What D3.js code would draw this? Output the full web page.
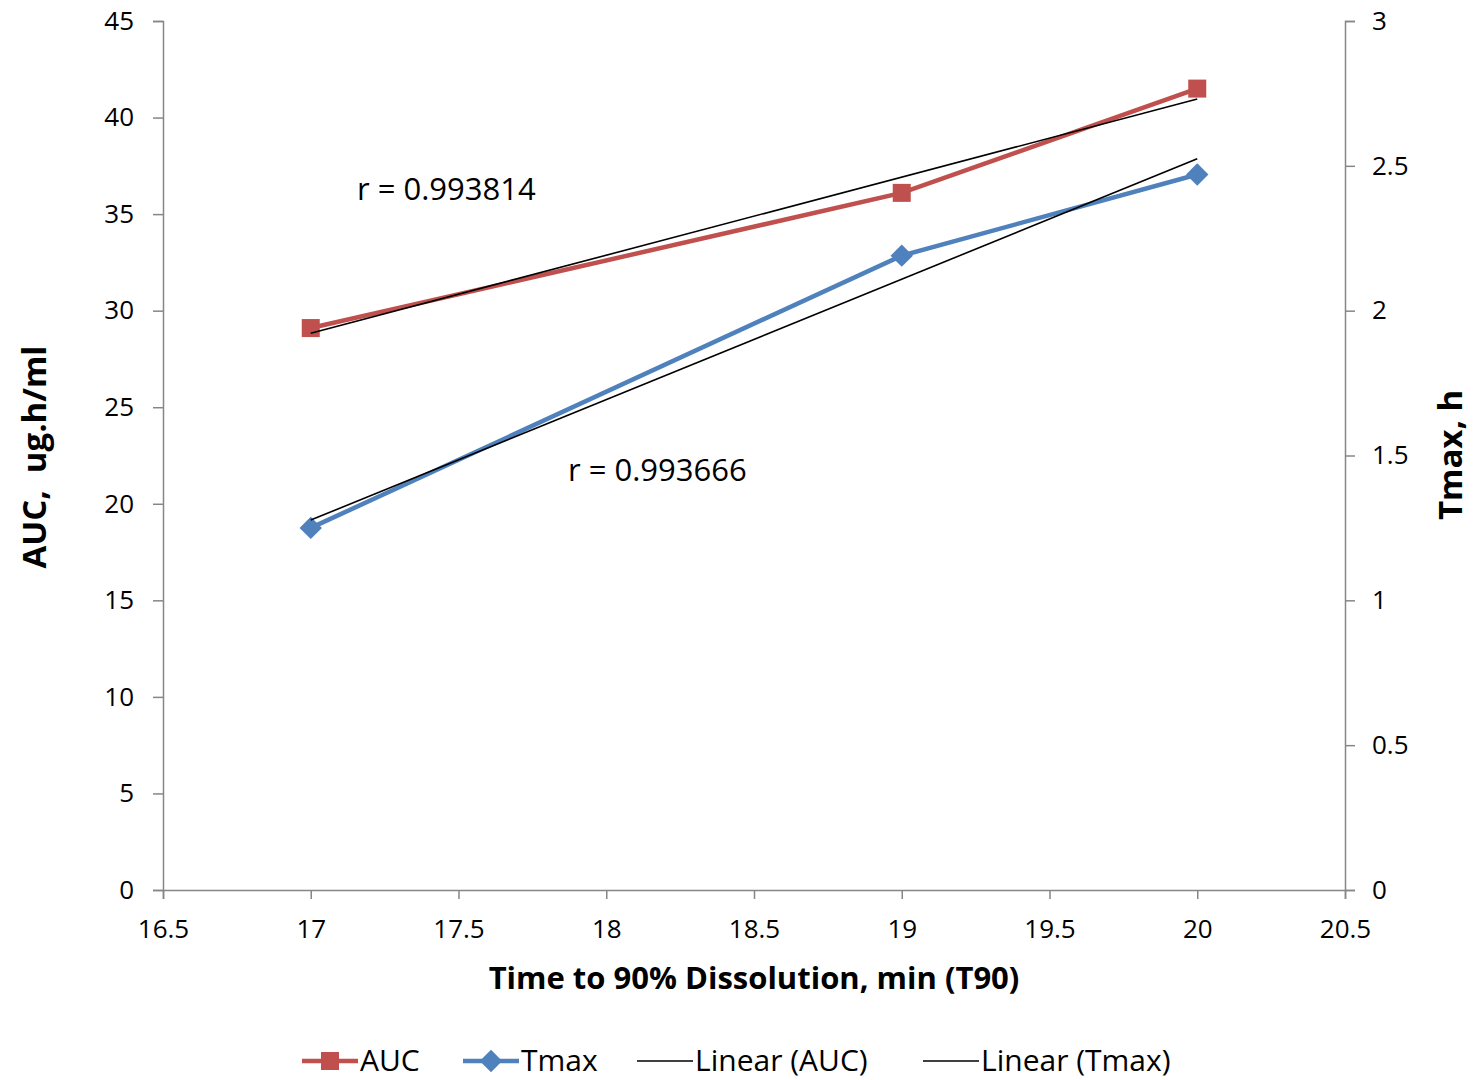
<!DOCTYPE html>
<html>
<head>
<meta charset="utf-8">
<script src="https://cdn.jsdelivr.net/npm/d3@7"></script>
<style>
  body { margin: 0; background: #fff; }
  svg text { font-family: "Open Sans", "Noto Sans", sans-serif; fill: #000; }
  .axis path, .axis line { stroke: #868686; stroke-width: 1.5; }
  .axis text { font-size: 26px; }
</style>
</head>
<body>
<svg width="1477" height="1080"></svg>
<script>
// chart data
var t90 = [17, 19, 20];
var auc = [29.1, 36.1, 41.5];
var tmax = [1.25, 2.19, 2.47];
var xTicks = [16.5, 17, 17.5, 18, 18.5, 19, 19.5, 20, 20.5];
var leftTicks = [0, 5, 10, 15, 20, 25, 30, 35, 40, 45];
var rightTicks = [0, 0.5, 1, 1.5, 2, 2.5, 3];
var rLabels = ["r = 0.993814", "r = 0.993666"];

var svg = d3.select("svg"),
    margin = {top: 21, right: 132, bottom: 190, left: 163},
    width = 1477 - margin.left - margin.right,
    height = 1080 - margin.top - margin.bottom;

var x = d3.scaleLinear().domain([16.5, 20.5]).range([0, width]),
    yL = d3.scaleLinear().domain([0, 45]).range([height, 0]),
    yR = d3.scaleLinear().domain([0, 3]).range([height, 0]);

var g = svg.append("g")
    .attr("transform", "translate(" + margin.left + "," + margin.top + ")");

// least squares line
function fit(xs, ys) {
    var mx = d3.mean(xs), my = d3.mean(ys);
    var sxy = d3.sum(xs, function(d, i) { return (d - mx) * (ys[i] - my); });
    var sxx = d3.sum(xs, function(d) { return (d - mx) * (d - mx); });
    var b = sxy / sxx;
    return function(v) { return my + b * (v - mx); };
}

g.append("g")
    .attr("class", "axis")
    .attr("transform", "translate(0," + height + ")")
    .call(d3.axisBottom(x).tickValues(xTicks).tickSize(9).tickPadding(21).tickFormat(d3.format("")));

g.append("g")
    .attr("class", "axis")
    .call(d3.axisLeft(yL).tickValues(leftTicks).tickSize(10).tickPadding(19));

g.append("g")
    .attr("class", "axis")
    .attr("transform", "translate(" + width + ",0)")
    .call(d3.axisRight(yR).tickValues(rightTicks).tickSize(10).tickPadding(17).tickFormat(d3.format("")));

g.selectAll(".axis text").style("fill", "#000");

var aucColor = "#C0504D", tmaxColor = "#4F81BD";

var lineL = d3.line().x(function(d, i) { return x(t90[i]); }).y(function(d) { return yL(d); });
var lineR = d3.line().x(function(d, i) { return x(t90[i]); }).y(function(d) { return yR(d); });

g.append("path").datum(auc).attr("d", lineL)
    .attr("fill", "none").attr("stroke", aucColor).attr("stroke-width", 4.5);
g.append("path").datum(tmax).attr("d", lineR)
    .attr("fill", "none").attr("stroke", tmaxColor).attr("stroke-width", 4.5);

// markers
g.selectAll(".sq").data(auc).enter().append("rect")
    .attr("x", function(d, i) { return x(t90[i]) - 9; })
    .attr("y", function(d) { return yL(d) - 9; })
    .attr("width", 18).attr("height", 18)
    .attr("fill", aucColor);

var diamond = d3.symbol().type(d3.symbolDiamond2).size(320);
g.selectAll(".dm").data(tmax).enter().append("path")
    .attr("d", diamond)
    .attr("transform", function(d, i) { return "translate(" + x(t90[i]) + "," + yR(d) + ")"; })
    .attr("fill", tmaxColor);

// trendlines
var fA = fit(t90, auc), fT = fit(t90, tmax);
var ends = d3.extent(t90);
g.append("line")
    .attr("x1", x(ends[0])).attr("y1", yL(fA(ends[0])))
    .attr("x2", x(ends[1])).attr("y2", yL(fA(ends[1])))
    .attr("stroke", "#000").attr("stroke-width", 1.6);
g.append("line")
    .attr("x1", x(ends[0])).attr("y1", yR(fT(ends[0])))
    .attr("x2", x(ends[1])).attr("y2", yR(fT(ends[1])))
    .attr("stroke", "#000").attr("stroke-width", 1.6);

// r labels
svg.append("text").attr("x", 357).attr("y", 200).style("font-size", "31px").text(rLabels[0]);
svg.append("text").attr("x", 568).attr("y", 481).style("font-size", "31px").text(rLabels[1]);

// axis titles
svg.append("text")
    .attr("transform", "translate(46,457) rotate(-90)")
    .attr("text-anchor", "middle")
    .style("font-size", "33px").style("font-weight", "bold")
    .text("AUC,\u00a0\u00a0ug.h/ml");

svg.append("text")
    .attr("transform", "translate(1462,455) rotate(-90)")
    .attr("text-anchor", "middle")
    .style("font-size", "33px").style("font-weight", "bold")
    .text("Tmax, h");

svg.append("text")
    .attr("x", 754).attr("y", 989)
    .attr("text-anchor", "middle")
    .style("font-size", "31px").style("font-weight", "bold")
    .text("Time to 90% Dissolution, min (T90)");

// legend
var legend = [
    {name: "AUC", color: aucColor, w: 4.5, mark: "sq", x: 302},
    {name: "Tmax", color: tmaxColor, w: 4.5, mark: "dm", x: 463},
    {name: "Linear (AUC)", color: "#000", w: 1.6, mark: null, x: 637},
    {name: "Linear (Tmax)", color: "#000", w: 1.6, mark: null, x: 923}
];
var lg = svg.selectAll(".lg").data(legend).enter().append("g")
    .attr("transform", function(d) { return "translate(" + d.x + ",1061)"; });
lg.append("line").attr("x1", 0).attr("x2", 56).attr("y1", 0).attr("y2", 0)
    .attr("stroke", function(d) { return d.color; })
    .attr("stroke-width", function(d) { return d.w; });
lg.filter(function(d) { return d.mark === "sq"; }).append("rect")
    .attr("x", 19).attr("y", -9).attr("width", 18).attr("height", 18)
    .attr("fill", aucColor);
lg.filter(function(d) { return d.mark === "dm"; }).append("path")
    .attr("d", diamond).attr("transform", "translate(28,0)")
    .attr("fill", tmaxColor);
lg.append("text").attr("x", 58).attr("y", 10)
    .style("font-size", "30px")
    .text(function(d) { return d.name; });
</script>
</body>
</html>
